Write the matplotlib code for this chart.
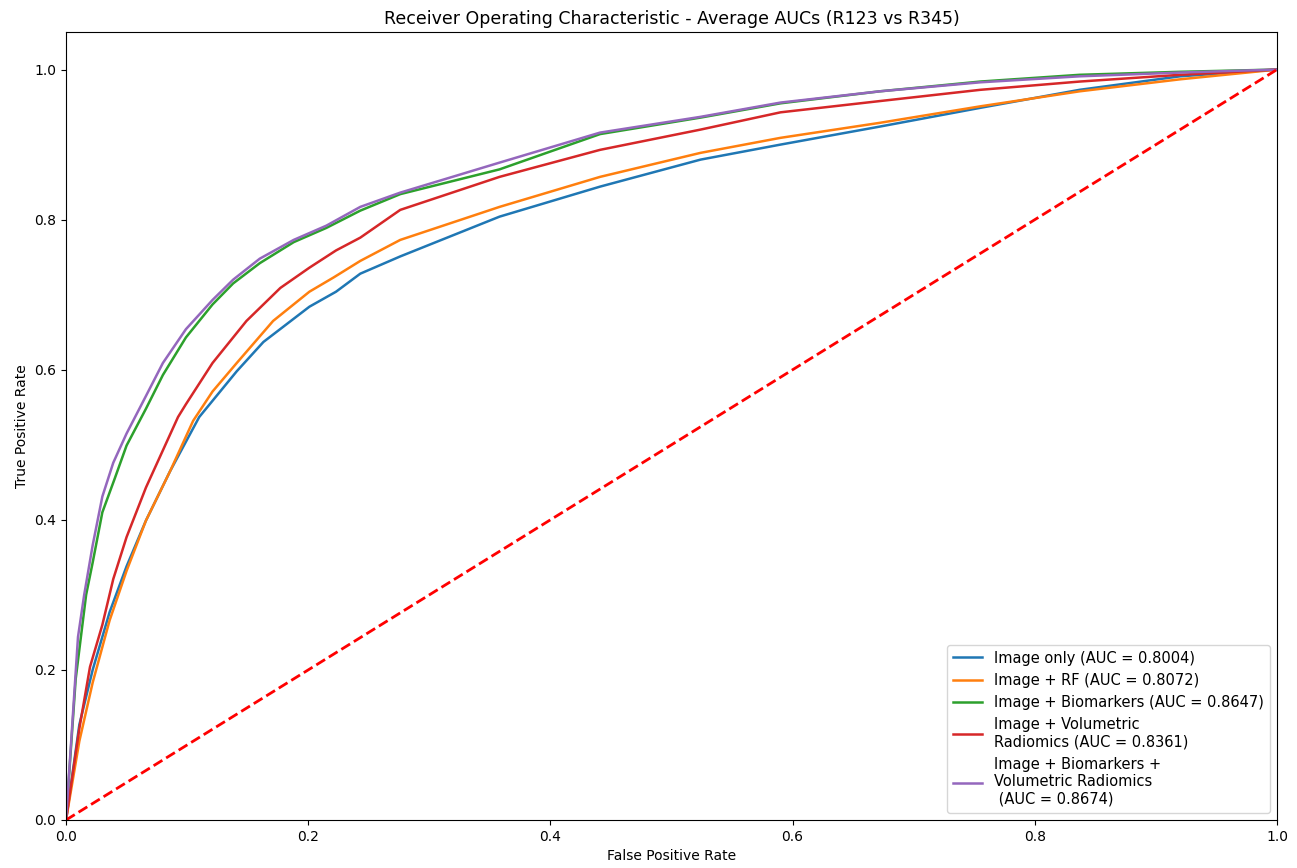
import matplotlib
matplotlib.use("Agg")
import matplotlib.pyplot as plt

# mean ROC curves
fpr_image = [0.0, 0.011, 0.022, 0.036, 0.050, 0.066, 0.086, 0.110, 0.141, 0.163, 0.201, 0.223, 0.243,
             0.276, 0.358, 0.441, 0.524, 0.590, 0.672, 0.755, 0.837, 0.920, 1.0]
tpr_image = [0.0, 0.127, 0.200, 0.277, 0.338, 0.399, 0.465, 0.537, 0.598, 0.637, 0.684, 0.704, 0.728,
             0.751, 0.804, 0.844, 0.880, 0.900, 0.924, 0.949, 0.973, 0.991, 1.0]

fpr_rf = [0.0, 0.011, 0.022, 0.036, 0.050, 0.066, 0.086, 0.105, 0.121, 0.141, 0.171, 0.201, 0.221, 0.243,
          0.276, 0.358, 0.441, 0.524, 0.590, 0.672, 0.755, 0.837, 0.920, 1.0]
tpr_rf = [0.0, 0.105, 0.183, 0.266, 0.332, 0.399, 0.465, 0.532, 0.571, 0.609, 0.665, 0.704, 0.723, 0.745,
          0.773, 0.817, 0.857, 0.889, 0.909, 0.929, 0.951, 0.971, 0.987, 1.0]

fpr_bio = [0.0, 0.008, 0.0166, 0.022, 0.030, 0.040, 0.050, 0.066, 0.080, 0.099, 0.121, 0.138, 0.160,
           0.188, 0.215, 0.243, 0.276, 0.358, 0.441, 0.524, 0.590, 0.672, 0.755, 0.837, 0.920, 1.0]
tpr_bio = [0.0, 0.188, 0.300, 0.343, 0.410, 0.454, 0.499, 0.548, 0.593, 0.643, 0.687, 0.715, 0.742,
           0.770, 0.789, 0.812, 0.834, 0.867, 0.914, 0.936, 0.955, 0.971, 0.984, 0.993, 0.997, 1.0]

fpr_vol = [0.0, 0.011, 0.0198, 0.030, 0.039, 0.050, 0.066, 0.077, 0.0925, 0.099, 0.121, 0.149, 0.177,
           0.201, 0.223, 0.243, 0.276, 0.358, 0.441, 0.524, 0.590, 0.672, 0.755, 0.837, 0.920, 1.0]
tpr_vol = [0.0, 0.122, 0.204, 0.260, 0.321, 0.377, 0.443, 0.482, 0.537, 0.554, 0.609, 0.665, 0.709,
           0.736, 0.759, 0.776, 0.813, 0.857, 0.893, 0.920, 0.943, 0.958, 0.973, 0.984, 0.993, 1.0]

fpr_all = [0.0, 0.0099, 0.015, 0.022, 0.030, 0.039, 0.050, 0.066, 0.080, 0.099, 0.121, 0.138, 0.160,
           0.188, 0.215, 0.243, 0.276, 0.358, 0.441, 0.524, 0.590, 0.672, 0.755, 0.837, 0.920, 1.0]
tpr_all = [0.0, 0.244, 0.300, 0.366, 0.431, 0.476, 0.515, 0.565, 0.609, 0.654, 0.693, 0.720, 0.748,
           0.773, 0.792, 0.817, 0.836, 0.876, 0.916, 0.937, 0.956, 0.971, 0.983, 0.991, 0.996, 1.0]

labels = ["Image only (AUC = 0.8004)",
          "Image + RF (AUC = 0.8072)",
          "Image + Biomarkers (AUC = 0.8647)",
          "Image + Volumetric\nRadiomics (AUC = 0.8361)",
          "Image + Biomarkers +\nVolumetric Radiomics\n (AUC = 0.8674)"]
colors = ["#1f77b4", "#ff7f0e", "#2ca02c", "#d62728", "#9467bd"]

curves = [(fpr_image, tpr_image), (fpr_rf, tpr_rf), (fpr_bio, tpr_bio),
          (fpr_vol, tpr_vol), (fpr_all, tpr_all)]

fig = plt.figure(figsize=(12.97, 8.68), dpi=100)
ax = fig.add_axes([0.0509, 0.0553, 0.9337, 0.9078])

for (fpr, tpr), label, color in zip(curves, labels, colors):
    ax.plot(fpr, tpr, color=color, lw=1.8, label=label)

ax.plot([0, 1], [0, 1], "r--", lw=2)

ax.set_xlim([0.0, 1.0])
ax.set_ylim([0.0, 1.05])
ax.set_xlabel("False Positive Rate", fontsize=10)
ax.set_ylabel("True Positive Rate", fontsize=10)
ax.set_title("Receiver Operating Characteristic - Average AUCs (R123 vs R345)", fontsize=12.5)
ax.tick_params(labelsize=10)
ax.legend(loc="lower right", fontsize=10.5)

fig.savefig("out.png", dpi=100)
